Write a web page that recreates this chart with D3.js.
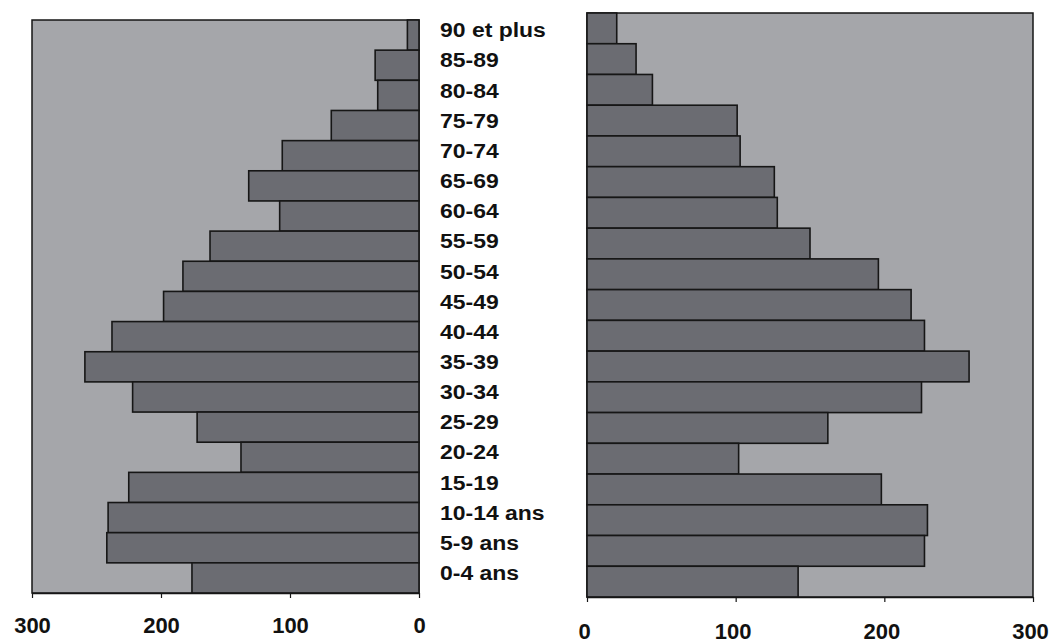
<!DOCTYPE html>
<html>
<head>
<meta charset="utf-8">
<script src="https://cdn.jsdelivr.net/npm/d3@7"></script>
<style>
  body { margin: 0; background: #ffffff; }
  text { font-family: "Liberation Sans", Arial, sans-serif; font-weight: bold; fill: #111; }
</style>
</head>
<body>
<svg id="svg"></svg>
<script>
const ageGroups = ["90 et plus", "85-89", "80-84", "75-79", "70-74", "65-69", "60-64",
                   "55-59", "50-54", "45-49", "40-44", "35-39", "30-34", "25-29",
                   "20-24", "15-19", "10-14 ans", "5-9 ans", "0-4 ans"];
const leftValues = [9, 34, 32, 68, 106, 132, 108, 162, 183, 198, 238, 259, 222, 172, 138, 225, 241, 242, 176];
const rightValues = [20, 33, 44, 101, 103, 126, 128, 150, 196, 218, 227, 257, 225, 162, 102, 198, 229, 227, 142];
const tickValues = [0, 100, 200, 300];

const width = 1061;
const height = 643;

const svg = d3.select("#svg")
              .attr("width", width)
              .attr("height", height);

const panelFill = "#a5a6aa";
const barFill = "#6b6c72";
const ink = "#161616";

// left panel (scale runs right to left)
const xLeft = d3.scaleLinear().domain([0, 300]).range([419, 32]);
const yLeft = d3.scaleBand().domain(ageGroups).range([20, 593]).padding(0);

// right panel
const xRight = d3.scaleLinear().domain([0, 300]).range([587, 1033]);
const yRight = d3.scaleBand().domain(ageGroups).range([13, 597]).padding(0);

function drawPanel(x, y, values, mirrored, labelY, labelDx) {
  const g = svg.append("g");
  const x0 = x.range()[0], x1 = x.range()[1];
  const [y0, y1] = y.range();

  g.append("rect")
   .attr("x", Math.min(x0, x1))
   .attr("y", y0)
   .attr("width", Math.abs(x1 - x0))
   .attr("height", y1 - y0)
   .style("fill", panelFill)
   .style("stroke", ink)
   .style("stroke-width", 1.5);

  g.append("g")
   .selectAll("rect")
   .data(ageGroups)
   .enter()
   .append("rect")
   .attr("x", (d, i) => mirrored ? x(values[i]) : x(0))
   .attr("y", d => y(d))
   .attr("width", (d, i) => Math.abs(x(values[i]) - x(0)))
   .attr("height", y.bandwidth())
   .style("fill", barFill)
   .style("stroke", ink)
   .style("stroke-width", 1.6);

  const axis = d3.axisBottom(x)
                 .tickValues(tickValues)
                 .tickSize(5)
                 .tickSizeOuter(0)
                 .tickFormat(d3.format("d"));

  const axisG = g.append("g")
                 .attr("transform", "translate(0," + y1 + ")")
                 .call(axis);
  axisG.select(".domain").style("stroke", ink).style("stroke-width", 1.5);
  axisG.selectAll(".tick line").style("stroke", ink).style("stroke-width", 1.2);
  axisG.selectAll(".tick text")
       .attr("y", labelY)
       .attr("x", labelDx)
       .style("font-size", "22px")
       .style("fill", "#111");
}

drawPanel(xLeft, yLeft, leftValues, true, 24, 0);
drawPanel(xRight, yRight, rightValues, false, 26, -3);

// age group labels between the two panels
svg.append("g")
   .attr("transform", "translate(440,0) scale(1.12,1)")
   .selectAll("text")
   .data(ageGroups)
   .enter()
   .append("text")
   .attr("x", 0)
   .attr("y", d => yLeft(d) + yLeft.bandwidth() / 2 - 5)
   .attr("dy", "0.35em")
   .style("font-size", "20.5px")
   .text(d => d);
</script>
</body>
</html>
